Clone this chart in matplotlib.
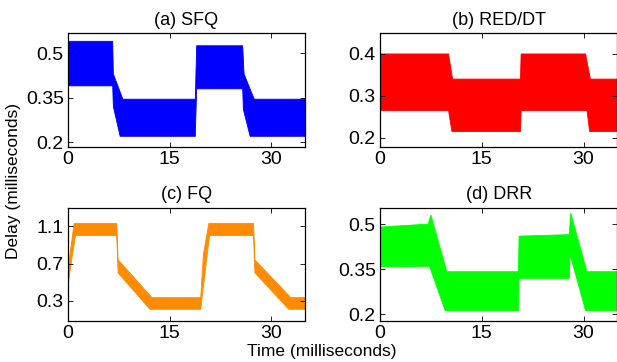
import numpy as np
import matplotlib
matplotlib.use('Agg')
import matplotlib.pyplot as plt

plt.rcParams['font.family'] = ['Liberation Sans', 'DejaVu Sans']

# envelope of the delay band (upper / lower edge), time in ms, delay in ms
# (a) SFQ
sfq_xu = [0, 6.6, 6.7, 8.1, 18.8, 19.0, 25.8, 26.0, 27.5, 35]
sfq_yu = [0.54, 0.54, 0.43, 0.345, 0.345, 0.525, 0.525, 0.43, 0.345, 0.345]
sfq_xl = [0, 6.6, 6.7, 7.7, 18.8, 19.0, 25.8, 25.9, 26.9, 35]
sfq_yl = [0.39, 0.39, 0.32, 0.22, 0.22, 0.38, 0.38, 0.31, 0.22, 0.22]

# (b) RED/DT
red_xu = [0, 10.1, 10.7, 20.7, 20.8, 30.3, 31.0, 35]
red_yu = [0.40, 0.40, 0.34, 0.34, 0.40, 0.40, 0.34, 0.34]
red_xl = [0, 0.05, 0.1, 10.1, 10.6, 20.7, 20.8, 30.5, 30.9, 35]
red_yl = [0.215, 0.215, 0.265, 0.265, 0.215, 0.215, 0.265, 0.265, 0.215, 0.215]

# (c) FQ
fq_xu = [0, 0.3, 0.9, 7.2, 7.4, 12.4, 19.6, 20.0, 20.8, 27.4, 27.6, 32.9, 35]
fq_yu = [0.55, 0.8, 1.13, 1.13, 0.74, 0.335, 0.335, 0.8, 1.13, 1.13, 0.74, 0.335, 0.335]
fq_xl = [0, 0.3, 1.1, 7.2, 7.4, 12.1, 19.6, 20.9, 27.4, 27.6, 32.6, 35]
fq_yl = [0.45, 0.62, 1.0, 1.0, 0.6, 0.21, 0.21, 1.0, 1.0, 0.6, 0.21, 0.21]

# (d) DRR
drr_xu = [0, 7.1, 7.5, 9.85, 20.4, 20.5, 27.9, 28.1, 30.5, 35]
drr_yu = [0.49, 0.50, 0.53, 0.342, 0.342, 0.46, 0.465, 0.537, 0.342, 0.342]
drr_xl = [0, 0.1, 7.3, 9.6, 20.4, 20.5, 27.9, 28.0, 30.3, 35]
drr_yl = [0.2, 0.358, 0.36, 0.213, 0.213, 0.32, 0.32, 0.40, 0.213, 0.213]

panels = [
    ('(a) SFQ', sfq_xu, sfq_yu, sfq_xl, sfq_yl, 'blue', (0.184, 0.568), [0.2, 0.35, 0.5], ['0.2', '0.35', '0.5']),
    ('(b) RED/DT', red_xu, red_yu, red_xl, red_yl, 'red', (0.178, 0.45), [0.2, 0.3, 0.4], ['0.2', '0.3', '0.4']),
    ('(c) FQ', fq_xu, fq_yu, fq_xl, fq_yl, '#ff8c00', (0.09, 1.30), [0.3, 0.7, 1.1], ['0.3', '0.7', '1.1']),
    ('(d) DRR', drr_xu, drr_yu, drr_xl, drr_yl, '#00ff00', (0.18, 0.555), [0.2, 0.35, 0.5], ['0.2', '0.35', '0.5']),
]

boxes = [
    [68/617, 1-147/362, 237/617, 114/362],
    [380/617, 1-147/362, 237.5/617, 114/362],
    [68/617, 1-320.5/362, 237/617, 113/362],
    [380/617, 1-320.5/362, 237.5/617, 113/362],
]

fig = plt.figure(figsize=(6.17, 3.62), dpi=100)

for box, (title, xu, yu, xl, yl, col, ylim, yt, ytl) in zip(boxes, panels):
    ax = fig.add_axes(box)
    px = np.concatenate([xu, xl[::-1]])
    py = np.concatenate([yu, yl[::-1]])
    ax.fill(px, py, color=col, lw=0.6, edgecolor=col)
    ax.set_xlim(0, 35)
    ax.set_ylim(*ylim)
    ax.set_xticks([0, 15, 30])
    ax.set_yticks(yt)
    ax.set_yticklabels(ytl)
    ax.tick_params(direction='in', length=3.5, width=0.6, top=True, right=True,
                   labelsize=14, pad=3)
    for s in ax.spines.values():
        s.set_linewidth(0.9)
    ax.set_title(title, fontsize=13, pad=6)

fig.text(0.022, 0.5, 'Delay (milliseconds)', rotation=90, ha='center', va='center', fontsize=12.5)
fig.text(0.522, 0.03, 'Time (milliseconds)', ha='center', va='center', fontsize=12.5)

fig.savefig('out.png', dpi=100)
